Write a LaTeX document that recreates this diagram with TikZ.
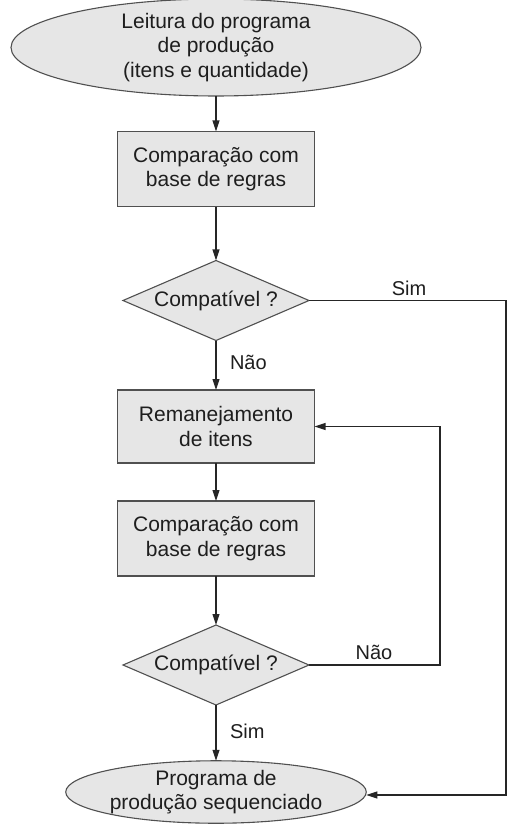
\documentclass[tikz,border=0pt]{standalone}
\usepackage{fontspec}
\setmainfont{Liberation Sans}
\usetikzlibrary{shapes.geometric,arrows.meta}
\definecolor{boxfill}{HTML}{E6E6E6}
\definecolor{boxline}{HTML}{505050}
\definecolor{txt}{HTML}{1E1E1E}
\begin{document}
\begin{tikzpicture}[x=1pt,y=-1pt,
  every node/.style={font=\fontsize{21}{24.5}\selectfont, text=txt, align=center, inner sep=0pt, outer sep=0pt},
  procbox/.style={draw=boxline, fill=boxfill, line width=1.1pt, minimum width=197pt, minimum height=75pt},
  termel/.style={ellipse, draw=boxline, fill=boxfill, line width=1.1pt},
  decide/.style={diamond, aspect=2.33, draw=boxline, fill=boxfill, line width=1.1pt, minimum width=186pt, minimum height=80pt},
  conn/.style={draw=black!85, line width=1.1pt, -{Triangle[length=11pt,width=7pt]}},
  lbl/.style={font=\fontsize{20}{23}\selectfont}
]
\useasboundingbox (0,0) rectangle (508,824);
\node[termel, minimum width=410pt, minimum height=87pt] (start) at (216,47.5) {Leitura do programa\\de produção\\(itens e quantidade)};
\node[procbox] (cmp1) at (216,169) {Comparação com\\base de regras};
\node[decide] (d1) at (216,300.5) {Compatível ?};
\node[procbox, minimum height=73pt] (rem) at (216,426.5) {Remanejamento\\de itens};
\node[procbox] (cmp2) at (216,538.5) {Comparação com\\base de regras};
\node[decide] (d2) at (216,665) {Compatível ?};
\node[termel, minimum width=295pt, minimum height=60pt] (end) at (216,792) {Programa de\\produção sequenciado};

\coordinate (r1) at (506,300.5);
\coordinate (r2) at (506,795);
\coordinate (f1) at (440,665);
\coordinate (f2) at (440,426.5);

\draw[conn] (start) -- (cmp1);
\draw[conn] (cmp1) -- (d1);
\draw[conn] (d1) -- node[lbl, right=14pt, pos=0.45] {Não} (rem);
\draw[conn] (rem) -- (cmp2);
\draw[conn] (cmp2) -- (d2);
\draw[conn] (d2) -- node[lbl, right=14pt, pos=0.48] {Sim} (end);
\draw[conn] (d1.east) -- (r1) -- (r2) -- (end.east |- r2);
\draw[conn] (d2.east) -- (f1) -- (f2) -- (rem.east);
\node[lbl] (sim1) at (409,288) {Sim};
\node[lbl] (nao2) at (374,652) {Não};
\end{tikzpicture}
\end{document}
